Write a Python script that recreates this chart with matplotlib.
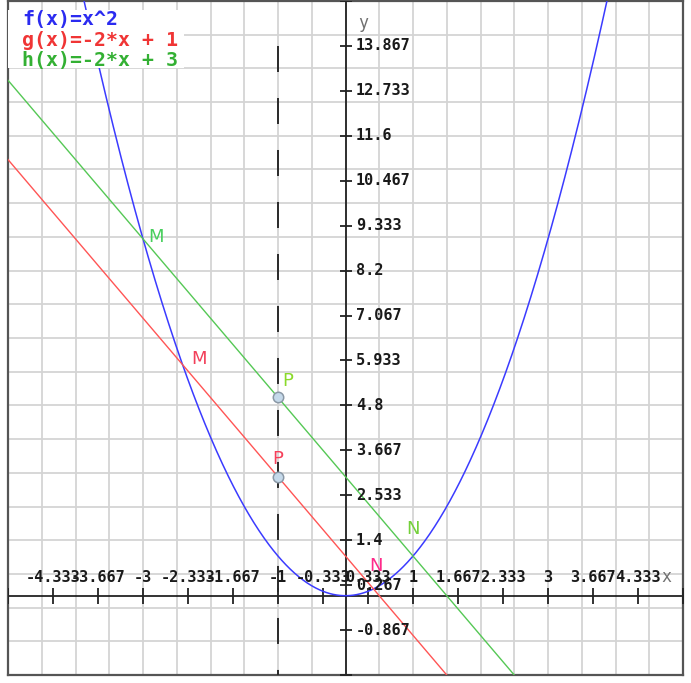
import numpy as np
import matplotlib
matplotlib.use("Agg")
import matplotlib.pyplot as plt
from matplotlib.patches import Rectangle

# ---------------- data ----------------
func_names = ["f(x)=x^2", "g(x)=-2*x + 1", "h(x)=-2*x + 3"]
quad_coef = [1, 0, 0]          # f(x) = x^2
g_coef = [-2, 1]               # g(x) = -2x + 1
h_coef = [-2, 3]               # h(x) = -2x + 3

x_range = [-5, 5]
y_range = [-2, 15]

x_tick_vals = [-5, -4.333, -3.667, -3, -2.333, -1.667, -1, -0.333, 0.333, 1,
               1.667, 2.333, 3, 3.667, 4.333, 5]
y_tick_vals = [-2, -0.867, 0.267, 1.4, 2.533, 3.667, 4.8, 5.933, 7.067, 8.2,
               9.333, 10.467, 11.6, 12.733, 13.867, 15]

grid_x_step = 0.5
grid_y_step = 0.85

# labelled points
pt_names = ["M", "N", "P", "M", "N", "P"]
pt_x = [-2.414, 0.414, -1, -3, 1, -1]
pt_y = [5.828, 0.172, 3, 9, 1, 5]
pt_marked = [False, False, True, False, False, True]
pt_series = ["g", "g", "g", "h", "h", "h"]

# ---------------- style ----------------
W, H = 691, 683
fig = plt.figure(figsize=(W / 100, H / 100), dpi=100)
ax = fig.add_axes([8 / W, 8 / H, 675 / W, 674 / H])
ax.set_xlim(*x_range)
ax.set_ylim(*y_range)

# grid
gx = np.arange(x_range[0], x_range[1] + 1e-9, grid_x_step)
gy = np.arange(y_range[0], y_range[1] + 1e-9, grid_y_step)
for v in gx:
    ax.axvline(v, color="#d4d4d4", lw=1.3, zorder=0)
for v in gy:
    ax.axhline(v, color="#d4d4d4", lw=1.3, zorder=0)
ax.set_xticks([])
ax.set_yticks([])
for s in ax.spines.values():
    s.set_color("#555555")
    s.set_linewidth(1.6)

# axes lines
ax.axhline(0, color="#111111", lw=1.2, zorder=2)
ax.axvline(0, color="#111111", lw=1.2, zorder=2)

# ticks as crosses on the axes
ax.plot(x_tick_vals, np.zeros(len(x_tick_vals)), ls="none", marker="|",
        ms=11.5, mew=1.3, color="#222222", zorder=3)
ax.plot(np.zeros(len(y_tick_vals)), y_tick_vals, ls="none", marker="_",
        ms=9, mew=1.3, color="#222222", zorder=3)


def fmt(v):
    return f"{v:.3f}".rstrip("0").rstrip(".")


mono = dict(family="DejaVu Sans Mono", weight="bold", fontsize=11, color="#1a1a1a")
for v in x_tick_vals[1:-1]:
    ax.annotate(fmt(v), (v, 0), xytext=(0, 7.5), textcoords="offset points",
                ha="center", va="bottom", zorder=6, **mono)
for v in y_tick_vals[1:-1]:
    ax.annotate(fmt(v), (0, v), xytext=(7.5, 0), textcoords="offset points",
                ha="left", va="center", zorder=6, **mono)

ax.annotate("x", (x_range[1], 0), xytext=(-12, 7), textcoords="offset points",
            ha="center", va="bottom", fontsize=12, color="#707070",
            family="DejaVu Sans Mono", zorder=6)
ax.annotate("y", (0, y_range[1]), xytext=(9, -9), textcoords="offset points",
            ha="left", va="top", fontsize=12, color="#707070",
            family="DejaVu Sans Mono", zorder=6)

# functions
xs = np.linspace(x_range[0], x_range[1], 800)
fy = np.polyval(quad_coef, xs)
gyv = np.polyval(g_coef, xs)
hyv = np.polyval(h_coef, xs)
line_colors = ["#3b3bff", "#ff5555", "#55c855"]
ax.plot(xs, fy, color=line_colors[0], lw=1.1, zorder=4)
ax.plot(xs, gyv, color=line_colors[1], lw=1.0, zorder=4)
ax.plot(xs, hyv, color=line_colors[2], lw=1.0, zorder=4)

# dashed vertical line through P points
px = pt_x[2]
dash = 26 / 1.389 / 1.4
ax.plot([px, px], [y_tick_vals[-2], y_range[0]], color="#2a2a2a", lw=1.4,
        linestyle=(0, (dash, dash)), zorder=3)

# points
for name, x, y, mk, ser in zip(pt_names, pt_x, pt_y, pt_marked, pt_series):
    if mk:
        ax.plot([x], [y], marker="o", ms=7.5, mfc="#c5d9ea", mec="#8a98a6",
                mew=1.1, zorder=7)

label_style = {
    ("M", "g"): ("#f2405a", (6, 4), "left", "center"),
    ("N", "g"): ("#ff2a8a", (2, 10), "center", "bottom"),
    ("P", "g"): ("#f5405a", (0, 6.5), "center", "bottom"),
    ("M", "h"): ("#47cf5c", (4, 1.5), "left", "center"),
    ("N", "h"): ("#74d03a", (0, 13), "center", "bottom"),
    ("P", "h"): ("#8ada2a", (3, 5.5), "left", "bottom"),
}
for name, x, y, ser in zip(pt_names, pt_x, pt_y, pt_series):
    c, off, ha, va = label_style[(name, ser)]
    ax.annotate(name, (x, y), xytext=off, textcoords="offset points",
                ha=ha, va=va, fontsize=13, color=c, zorder=8)

# legend box
ax.add_patch(Rectangle((0, 1 - 67 / 674), 176 / 675, 58 / 674,
                       transform=ax.transAxes, facecolor="white",
                       edgecolor="none", zorder=9))
leg_colors = ["#2b2bf0", "#f03535", "#33b033"]
leg_y = [19.5, 40, 60.5]
for name, c, yy in zip(func_names, leg_colors, leg_y):
    fig.text(22 / W, 1 - yy / H, name, ha="left", va="center",
             family="DejaVu Sans Mono", weight="bold", fontsize=14.3,
             color=c, zorder=10)

fig.savefig("out.png", dpi=100)
